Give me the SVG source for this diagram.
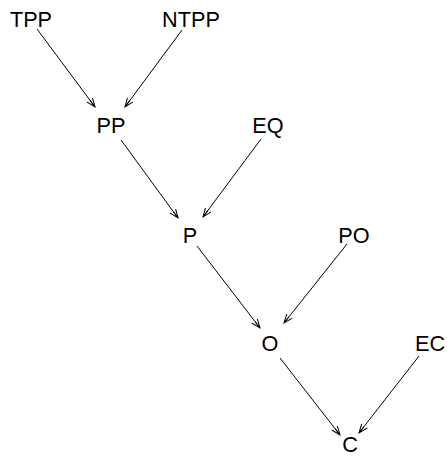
<svg xmlns="http://www.w3.org/2000/svg" width="447" height="457" viewBox="0 0 447 457">
<style>
text{font-family:"Liberation Sans",Arial,sans-serif;font-size:21.7px;fill:#000;text-anchor:middle}
.e{stroke:#000;stroke-width:1;fill:none;marker-end:url(#a)}
</style>
<defs>
<marker id="a" markerUnits="userSpaceOnUse" markerWidth="12" markerHeight="10" refX="9" refY="4" orient="auto">
<path d="M0,0.5 L9,4 L0,7.5 M1,4 L9,4" fill="none" stroke="#000" stroke-width="1"/>
</marker>
</defs>
<rect width="447" height="457" fill="#fff"/>
<g id="edges">
<line class="e" x1="37" y1="29" x2="95" y2="107"/>
<line class="e" x1="182" y1="30" x2="125" y2="107"/>
<line class="e" x1="121" y1="140" x2="178" y2="218"/>
<line class="e" x1="261" y1="139" x2="203" y2="217"/>
<line class="e" x1="197" y1="246" x2="260" y2="328"/>
<line class="e" x1="347" y1="244" x2="284" y2="323"/>
<line class="e" x1="280" y1="358" x2="340" y2="435"/>
<line class="e" x1="419" y1="356" x2="359" y2="433"/>
</g>
<g id="TPP"><text x="31" y="27">TPP</text></g>
<g id="NTPP"><text x="191" y="27">NTPP</text></g>
<g id="PP"><text x="111" y="133">PP</text></g>
<g id="EQ"><text x="268" y="133">EQ</text></g>
<g id="P"><text x="190" y="243">P</text></g>
<g id="PO"><text x="354" y="243">PO</text></g>
<g id="O"><text x="270" y="351">O</text></g>
<g id="EC"><text x="430" y="351">EC</text></g>
<g id="C"><text x="350" y="452">C</text></g>
</svg>
